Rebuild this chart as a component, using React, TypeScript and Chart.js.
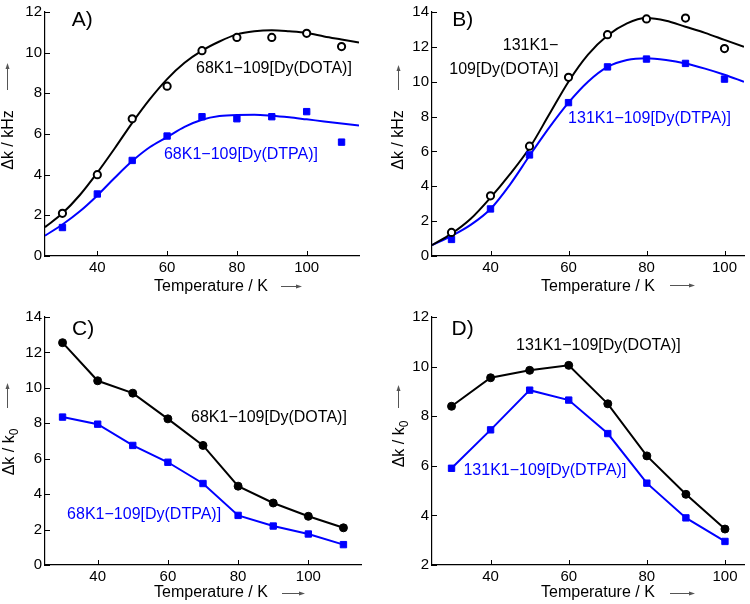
import React, { useEffect, useRef } from "react";
import { Chart, registerables } from "chart.js";
Chart.register(...registerables);

// ---------- data ----------
const TEMPS_68 = [30, 40, 50, 60, 70, 80, 90, 100, 110];
const TEMPS_131 = [30, 40, 50, 60, 70, 80, 90, 100];

// Panel A (Δk / kHz, 68K1-109)
const A_DOTA = [2.1, 4.0, 6.75, 8.35, 10.1, 10.75, 10.75, 10.95, 10.3];
const A_DTPA = [1.4, 3.05, 4.7, 5.9, 6.85, 6.75, 6.85, 7.1, 5.6];
const A_FIT_T = [25, 30, 35, 40, 45, 50, 55, 60, 65, 70, 75, 80, 85, 90, 95, 100, 105, 110, 115];
const A_DOTA_FIT = [1.42, 2.1, 3.0, 4.1, 5.3, 6.55, 7.7, 8.7, 9.5, 10.1, 10.55, 10.9, 11.05, 11.1, 11.05, 10.97, 10.8, 10.65, 10.5];
const A_DTPA_FIT = [1.0, 1.55, 2.2, 2.98, 3.85, 4.67, 5.35, 5.85, 6.35, 6.7, 6.88, 6.94, 6.95, 6.9, 6.82, 6.72, 6.62, 6.52, 6.42];

// Panel B (Δk / kHz, 131K1-109)
const B_DOTA = [1.35, 3.45, 6.3, 10.25, 12.7, 13.6, 13.65, 11.9];
const B_DTPA = [0.95, 2.7, 5.8, 8.8, 10.85, 11.3, 11.05, 10.15];
const B_FIT_T = [25, 30, 35, 40, 45, 50, 55, 60, 65, 70, 75, 80, 85, 90, 95, 100, 105];
const B_DOTA_FIT = [0.62, 1.28, 2.15, 3.35, 4.7, 6.2, 8.1, 10.0, 11.55, 12.65, 13.35, 13.65, 13.5, 13.15, 12.8, 12.4, 12.0];
const B_DTPA_FIT = [0.62, 1.15, 1.8, 2.7, 4.1, 5.75, 7.35, 8.8, 10.0, 10.85, 11.25, 11.35, 11.25, 11.05, 10.75, 10.4, 10.0];

// Panel C (Δk / k0, 68K1-109)
const C_DOTA = [12.55, 10.4, 9.7, 8.25, 6.75, 4.45, 3.5, 2.75, 2.1];
const C_DTPA = [8.35, 7.95, 6.75, 5.8, 4.6, 2.8, 2.2, 1.75, 1.15];

// Panel D (Δk / k0, 131K1-109)
const D_DOTA = [8.4, 9.55, 9.85, 10.05, 8.5, 6.4, 4.85, 3.45];
const D_DTPA = [5.9, 7.45, 9.05, 8.65, 7.3, 5.3, 3.9, 2.95];

// ticks
const X_TICKS = [40, 60, 80, 100];
const Y_TICKS_A = [0, 2, 4, 6, 8, 10, 12];
const Y_TICKS_B = [0, 2, 4, 6, 8, 10, 12, 14];
const Y_TICKS_C = [0, 2, 4, 6, 8, 10, 12, 14];
const Y_TICKS_D = [2, 4, 6, 8, 10, 12];

// labels
const LBL_68_DOTA = "68K1\u2212109[Dy(DOTA)]";
const LBL_68_DTPA = "68K1\u2212109[Dy(DTPA)]";
const LBL_131_DOTA = "131K1\u2212109[Dy(DOTA)]";
const LBL_131_DOTA_1 = "131K1\u2212";
const LBL_131_DOTA_2 = "109[Dy(DOTA)]";
const LBL_131_DTPA = "131K1\u2212109[Dy(DTPA)]";
const X_TITLE = "Temperature / K";

// ---------- styling ----------
const FONT = "'Liberation Sans', Arial, Helvetica, sans-serif";
const BLUE = "#0000ff";
const BLACK = "#000000";
const ARROW = "#555555";

const zip = (xs: number[], ys: number[]) => xs.map((x, i) => ({ x, y: ys[i] }));

type Label = { text: string; x: number; y: number; color: string; align: CanvasTextAlign };

type PanelCfg = {
  left: number; top: number; w: number; h: number;
  padTop: number; padRight: number; yWidth: number; xHeight: number;
  xMin: number; xMax: number; yMin: number; yMax: number;
  yTicks: number[];
  datasets: any[];
  letter: string; letterX: number; letterY: number;
  labels: Label[];
  yTitle: string; ySub?: string; yTitleX: number; yTitleY: number;
  yArrowX: number; yArrowTail: number; yArrowHead: number;
  xTitleLeft: number; xTitleBase: number;
  xArrowFrom: number; xArrowTo: number; xArrowY: number;
};

const fitDs = (xs: number[], ys: number[], color: string) => ({
  data: zip(xs, ys),
  borderColor: color,
  borderWidth: 2,
  pointRadius: 0,
  fill: false,
  tension: 0.4,
  cubicInterpolationMode: "monotone",
  order: 2,
});

const ptsDs = (xs: number[], ys: number[], color: string, style: string, open: boolean) => ({
  data: zip(xs, ys),
  showLine: false,
  borderColor: color,
  backgroundColor: open ? "#ffffff" : color,
  pointStyle: style,
  pointRadius: style === "rect" ? 4.5 : 3.6,
  pointBorderWidth: open ? 2 : 1,
  pointBorderColor: color,
  pointBackgroundColor: open ? "#ffffff" : color,
  order: 1,
});

const lineDs = (xs: number[], ys: number[], color: string, style: string) => ({
  data: zip(xs, ys),
  borderColor: color,
  backgroundColor: color,
  borderWidth: 2,
  tension: 0,
  pointStyle: style,
  pointRadius: style === "rect" ? 4.5 : 4,
  pointBorderWidth: 1,
  pointBorderColor: color,
  pointBackgroundColor: color,
});

const PANELS: PanelCfg[] = [
  {
    left: 0, top: 0, w: 375, h: 300,
    padTop: 8, padRight: 16, yWidth: 45, xHeight: 44,
    xMin: 25, xMax: 115, yMin: 0, yMax: 12, yTicks: Y_TICKS_A,
    datasets: [
      fitDs(A_FIT_T, A_DOTA_FIT, BLACK),
      fitDs(A_FIT_T, A_DTPA_FIT, BLUE),
      ptsDs(TEMPS_68, A_DOTA, BLACK, "circle", true),
      ptsDs(TEMPS_68, A_DTPA, BLUE, "rect", false),
    ],
    letter: "A)", letterX: 32.7, letterY: 11.6,
    labels: [
      { text: LBL_68_DOTA, x: 68.3, y: 9.24, color: BLACK, align: "left" },
      { text: LBL_68_DTPA, x: 59.1, y: 4.98, color: BLUE, align: "left" },
    ],
    yTitle: "\u0394k / kHz", yTitleX: 9, yTitleY: 140,
    yArrowX: 7, yArrowTail: 90, yArrowHead: 63,
    xTitleLeft: 154, xTitleBase: 291,
    xArrowFrom: 281, xArrowTo: 302, xArrowY: 286,
  },
  {
    left: 375, top: 0, w: 375, h: 300,
    padTop: 8, padRight: 3, yWidth: 57, xHeight: 44,
    xMin: 25, xMax: 105, yMin: 0, yMax: 14, yTicks: Y_TICKS_B,
    datasets: [
      fitDs(B_FIT_T, B_DOTA_FIT, BLACK),
      fitDs(B_FIT_T, B_DTPA_FIT, BLUE),
      ptsDs(TEMPS_131, B_DOTA, BLACK, "circle", true),
      ptsDs(TEMPS_131, B_DTPA, BLUE, "rect", false),
    ],
    letter: "B)", letterX: 30.2, letterY: 13.55,
    labels: [
      { text: LBL_131_DOTA_1, x: 57.4, y: 12.08, color: BLACK, align: "right" },
      { text: LBL_131_DOTA_2, x: 57.4, y: 10.67, color: BLACK, align: "right" },
      { text: LBL_131_DTPA, x: 59.9, y: 7.9, color: BLUE, align: "left" },
    ],
    yTitle: "\u0394k / kHz", yTitleX: 24, yTitleY: 140,
    yArrowX: 23, yArrowTail: 90, yArrowHead: 65,
    xTitleLeft: 166, xTitleBase: 291,
    xArrowFrom: 295, xArrowTo: 320, xArrowY: 285,
  },
  {
    left: 0, top: 300, w: 375, h: 304,
    padTop: 17, padRight: 14, yWidth: 45, xHeight: 39,
    xMin: 25, xMax: 115, yMin: 0, yMax: 14, yTicks: Y_TICKS_C,
    datasets: [
      lineDs(TEMPS_68, C_DOTA, BLACK, "circle"),
      lineDs(TEMPS_68, C_DTPA, BLUE, "rect"),
    ],
    letter: "C)", letterX: 32.7, letterY: 13.3,
    labels: [
      { text: LBL_68_DOTA, x: 66.6, y: 8.34, color: BLACK, align: "left" },
      { text: LBL_68_DTPA, x: 31.3, y: 2.87, color: BLUE, align: "left" },
    ],
    yTitle: "\u0394k / k", ySub: "0", yTitleX: 10, yTitleY: 152,
    yArrowX: 7, yArrowTail: 108, yArrowHead: 83,
    xTitleLeft: 154, xTitleBase: 297,
    xArrowFrom: 282, xArrowTo: 305, xArrowY: 293,
  },
  {
    left: 375, top: 300, w: 375, h: 304,
    padTop: 17, padRight: 3, yWidth: 57, xHeight: 39,
    xMin: 25, xMax: 105, yMin: 2, yMax: 12, yTicks: Y_TICKS_D,
    datasets: [
      lineDs(TEMPS_131, D_DOTA, BLACK, "circle"),
      lineDs(TEMPS_131, D_DTPA, BLUE, "rect"),
    ],
    letter: "D)", letterX: 30, letterY: 11.52,
    labels: [
      { text: LBL_131_DOTA, x: 46.5, y: 10.83, color: BLACK, align: "left" },
      { text: LBL_131_DTPA, x: 33.05, y: 5.79, color: BLUE, align: "left" },
    ],
    yTitle: "\u0394k / k", ySub: "0", yTitleX: 25, yTitleY: 144,
    yArrowX: 23, yArrowTail: 108, yArrowHead: 85,
    xTitleLeft: 166, xTitleBase: 297,
    xArrowFrom: 295, xArrowTo: 320, xArrowY: 293,
  },
];

function makeDecor(cfg: PanelCfg) {
  return {
    id: "decor",
    afterDraw(chart: any) {
      const ctx: CanvasRenderingContext2D = chart.ctx;
      const xs = chart.scales.x;
      const ys = chart.scales.y;
      const area = chart.chartArea;
      ctx.save();
      // inward ticks
      ctx.strokeStyle = BLACK;
      ctx.lineWidth = 1;
      ctx.beginPath();
      for (const t of xs.ticks) {
        const px = Math.round(xs.getPixelForValue(t.value)) + 0.5;
        ctx.moveTo(px, area.bottom);
        ctx.lineTo(px, area.bottom - 5);
      }
      for (const t of ys.ticks) {
        const py = Math.round(ys.getPixelForValue(t.value)) + 0.5;
        ctx.moveTo(area.left, py);
        ctx.lineTo(area.left + 5, py);
      }
      ctx.stroke();

      // panel letter
      ctx.fillStyle = BLACK;
      ctx.font = `21px ${FONT}`;
      ctx.textAlign = "left";
      ctx.textBaseline = "middle";
      ctx.fillText(cfg.letter, xs.getPixelForValue(cfg.letterX), ys.getPixelForValue(cfg.letterY));

      // annotations
      ctx.font = `16px ${FONT}`;
      for (const l of cfg.labels) {
        ctx.fillStyle = l.color;
        ctx.textAlign = l.align;
        ctx.fillText(l.text, xs.getPixelForValue(l.x), ys.getPixelForValue(l.y));
      }

      // x title
      ctx.fillStyle = BLACK;
      ctx.font = `16px ${FONT}`;
      ctx.textAlign = "left";
      ctx.textBaseline = "alphabetic";
      ctx.fillText(X_TITLE, cfg.xTitleLeft, cfg.xTitleBase);

      // x arrow
      ctx.strokeStyle = ARROW;
      ctx.fillStyle = ARROW;
      ctx.lineWidth = 1;
      ctx.beginPath();
      ctx.moveTo(cfg.xArrowFrom, cfg.xArrowY + 0.5);
      ctx.lineTo(cfg.xArrowTo - 4, cfg.xArrowY + 0.5);
      ctx.stroke();
      ctx.beginPath();
      ctx.moveTo(cfg.xArrowTo, cfg.xArrowY + 0.5);
      ctx.lineTo(cfg.xArrowTo - 6, cfg.xArrowY - 1.5);
      ctx.lineTo(cfg.xArrowTo - 6, cfg.xArrowY + 2.5);
      ctx.closePath();
      ctx.fill();

      // y arrow
      ctx.beginPath();
      ctx.moveTo(cfg.yArrowX + 0.5, cfg.yArrowTail);
      ctx.lineTo(cfg.yArrowX + 0.5, cfg.yArrowHead + 4);
      ctx.stroke();
      ctx.beginPath();
      ctx.moveTo(cfg.yArrowX + 0.5, cfg.yArrowHead);
      ctx.lineTo(cfg.yArrowX - 1.5, cfg.yArrowHead + 6);
      ctx.lineTo(cfg.yArrowX + 2.5, cfg.yArrowHead + 6);
      ctx.closePath();
      ctx.fill();

      // y title (rotated)
      ctx.translate(cfg.yTitleX, cfg.yTitleY);
      ctx.rotate(-Math.PI / 2);
      ctx.fillStyle = BLACK;
      ctx.font = `16px ${FONT}`;
      ctx.textBaseline = "middle";
      ctx.textAlign = "left";
      const mainW = ctx.measureText(cfg.yTitle).width;
      let subW = 0;
      if (cfg.ySub) {
        ctx.font = `12px ${FONT}`;
        subW = ctx.measureText(cfg.ySub).width;
        ctx.font = `16px ${FONT}`;
      }
      const total = mainW + subW;
      ctx.fillText(cfg.yTitle, -total / 2, 0);
      if (cfg.ySub) {
        ctx.font = `12px ${FONT}`;
        ctx.fillText(cfg.ySub, -total / 2 + mainW, 5);
      }
      ctx.restore();
    },
  };
}

function PanelChart({ cfg }: { cfg: PanelCfg }) {
  const ref = useRef<HTMLCanvasElement>(null);
  useEffect(() => {
    const canvas = ref.current;
    if (!canvas) return;
    const chart = new Chart(canvas, {
      type: "line",
      data: { datasets: cfg.datasets },
      options: {
        animation: false,
        responsive: false,
        maintainAspectRatio: false,
        layout: { padding: { top: cfg.padTop, right: cfg.padRight, left: 0, bottom: 0 } },
        plugins: { legend: { display: false }, tooltip: { enabled: false } },
        scales: {
          x: {
            type: "linear",
            min: cfg.xMin,
            max: cfg.xMax,
            afterBuildTicks: (s: any) => { s.ticks = X_TICKS.map((v) => ({ value: v })); },
            afterFit: (s: any) => { s.height = cfg.xHeight; },
            grid: { display: false, drawTicks: false, tickLength: 0 },
            border: { display: true, color: BLACK, width: 1.2 },
            ticks: { color: BLACK, font: { family: FONT, size: 15 }, padding: 3, maxRotation: 0, autoSkip: false },
          },
          y: {
            type: "linear",
            min: cfg.yMin,
            max: cfg.yMax,
            afterBuildTicks: (s: any) => { s.ticks = cfg.yTicks.map((v) => ({ value: v })); },
            afterFit: (s: any) => { s.width = cfg.yWidth; },
            grid: { display: false, drawTicks: false, tickLength: 0 },
            border: { display: true, color: BLACK, width: 1.2 },
            ticks: { color: BLACK, font: { family: FONT, size: 15 }, padding: 3, autoSkip: false },
          },
        },
      } as any,
      plugins: [makeDecor(cfg)],
    });
    return () => chart.destroy();
  }, [cfg]);
  return (
    <canvas
      ref={ref}
      width={cfg.w}
      height={cfg.h}
      style={{ position: "absolute", left: cfg.left, top: cfg.top, width: cfg.w, height: cfg.h }}
    />
  );
}

export default function App() {
  return (
    <div style={{ position: "fixed", left: 0, top: 0, width: 750, height: 604, background: "#ffffff" }}>
      {PANELS.map((p, i) => (
        <PanelChart key={i} cfg={p} />
      ))}
    </div>
  );
}
